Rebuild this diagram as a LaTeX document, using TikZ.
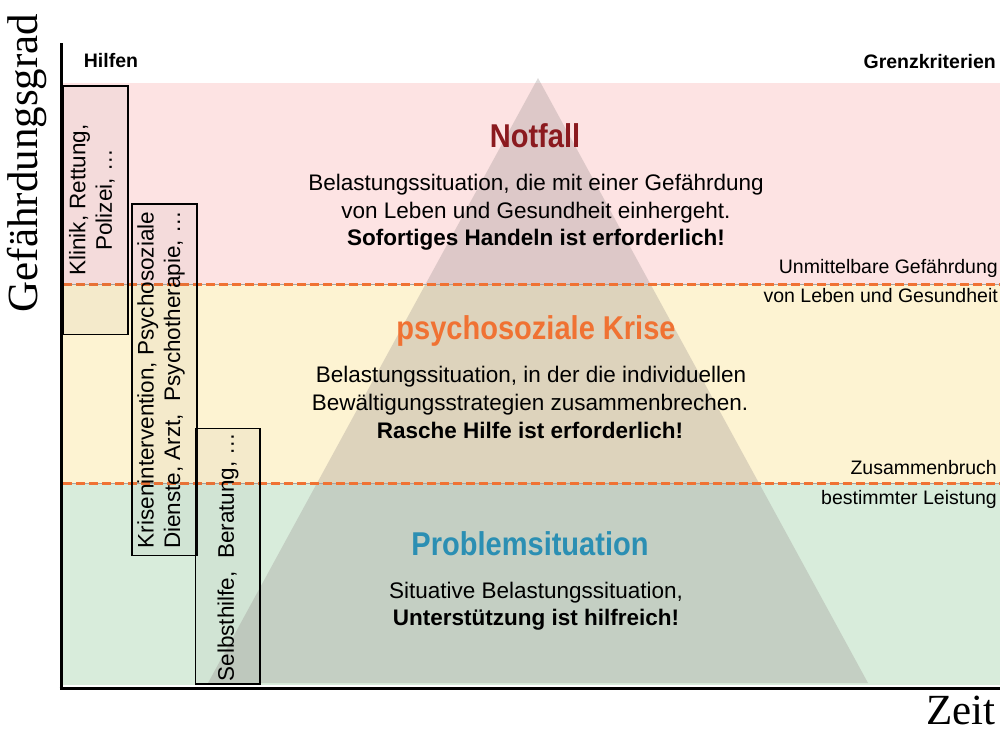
\documentclass[tikz,border=0pt]{standalone}
\usepackage{fontspec}
\setmainfont{Liberation Sans}
\newfontfamily\axisfont{Liberation Serif}
\newfontfamily\titlefont[FakeStretch=0.88]{Liberation Sans}
\definecolor{bandred}{HTML}{FDE3E3}
\definecolor{bandyellow}{HTML}{FDF3D2}
\definecolor{bandgreen}{HTML}{D8ECDB}
\definecolor{dashorange}{HTML}{F07233}
\definecolor{titlered}{HTML}{8B1A1F}
\definecolor{titleorange}{HTML}{F07233}
\definecolor{titleblue}{HTML}{2B8FB3}
\definecolor{pyramid}{RGB}{150,140,140}
\definecolor{boxtint}{RGB}{100,100,100}
\tikzset{
  band/.style={draw=none},
  boundary/.style={draw=dashorange, line width=3pt, dash pattern=on 8.5pt off 4.5pt},
  boundaryline/.style={draw=gray!70, line width=0.8pt},
  helpbox/.style={draw=black, line width=1.3pt, fill=boxtint, fill opacity=0.06},
  helptext/.style={rotate=90, align=center, font=\fontsize{22.5}{26.5}\selectfont, inner sep=0pt},
  bodytext/.style={anchor=base, inner sep=0pt, font=\fontsize{22.5}{27}\selectfont},
  titletext/.style={anchor=base, inner sep=0pt, font=\titlefont\bfseries\fontsize{33}{33}\selectfont},
  criterion/.style={anchor=base east, inner sep=0pt, font=\fontsize{19.5}{19.5}\selectfont},
  header/.style={anchor=base, inner sep=0pt, font=\bfseries\fontsize{19.5}{19.5}\selectfont},
  axislabel/.style={inner sep=0pt, font=\axisfont\fontsize{43}{43}\selectfont},
  axisline/.style={line width=3pt, black}
}
\begin{document}
\begin{tikzpicture}[x=1pt, y=-1pt]
\useasboundingbox (0,0) rectangle (1000,731);
% bands
\fill[bandred] (63,83) rectangle (1000,284);
\fill[bandyellow] (63,284) rectangle (1000,483);
\fill[bandgreen] (63,483) rectangle (1000,685);
% pyramid
\coordinate (apex) at (538,78);
\coordinate (baseL) at (208,683);
\coordinate (baseR) at (868,683);
\fill[pyramid, fill opacity=0.3] (apex) -- (baseR) -- (baseL) -- cycle;
% boundaries
\coordinate (b1l) at (63,284); \coordinate (b1r) at (1000,284);
\coordinate (b2l) at (63,483); \coordinate (b2r) at (1000,483);
\draw[boundaryline] (b1l) -- (b1r);
\draw[boundaryline] (b2l) -- (b2r);
\draw[boundary] (b1l) -- (b1r);
\draw[boundary] (b2l) -- (b2r);
% axes
\coordinate (ytop) at (61,43);
\coordinate (origin) at (61,688);
\coordinate (xend) at (1000,688);
\draw[axisline] (ytop) -- (61,689.5);
\draw[axisline] (59.5,688) -- (xend);
\node[axislabel, rotate=90, anchor=base] (ylabel) at (37,163) {Gefährdungsgrad};
\node[axislabel, anchor=base east, text depth=0pt] (xlabel) at (996,724) {Zeit};
% headers
\node[header] (hilfen) at (111,67) {Hilfen};
\node[header, anchor=base east] (grenz) at (996,68) {Grenzkriterien};
% help boxes
\draw[helpbox] (63.5,86) rectangle (128,334.5);
\node[helptext] (h1) at (92,200) {Klinik, Rettung,\\Polizei, …};
\draw[helpbox] (132,204) rectangle (197,555.5);
\node[helptext] (h2) at (161,380) {Krisenintervention, Psychosoziale\\Dienste, Arzt, \ Psychotherapie, …};
\draw[helpbox] (195.5,428.5) rectangle (260,684);
\node[helptext] (h3) at (228,557) {Selbsthilfe, \ Beratung, …};
% criteria
\node[criterion] (c1) at (998,273) {Unmittelbare Gefährdung};
\node[criterion] (c2) at (998,302) {von Leben und Gesundheit};
\node[criterion] (c3) at (997,474) {Zusammenbruch};
\node[criterion] (c4) at (997,504) {bestimmter Leistung};
% Notfall
\node[titletext, text=titlered] (t1) at (535,147) {Notfall};
\node[bodytext] (n1) at (536,190) {Belastungssituation, die mit einer Gefährdung};
\node[bodytext] (n2) at (536,218) {von Leben und Gesundheit einhergeht.};
\node[bodytext, font=\bfseries\fontsize{22.5}{27}\selectfont] (n3) at (536,245) {Sofortiges Handeln ist erforderlich!};
% Krise
\node[titletext, text=titleorange] (t2) at (536,339) {psychosoziale Krise};
\node[bodytext] (k1) at (531,382) {Belastungssituation, in der die individuellen};
\node[bodytext] (k2) at (530,410) {Bewältigungsstrategien zusammenbrechen.};
\node[bodytext, font=\bfseries\fontsize{22.5}{27}\selectfont] (k3) at (530,438) {Rasche Hilfe ist erforderlich!};
% Problemsituation
\node[titletext, text=titleblue] (t3) at (530,555) {Problemsituation};
\node[bodytext] (p1) at (536,598) {Situative Belastungssituation,};
\node[bodytext, font=\bfseries\fontsize{22.5}{27}\selectfont] (p2) at (536,625) {Unterstützung ist hilfreich!};
\end{tikzpicture}
\end{document}
